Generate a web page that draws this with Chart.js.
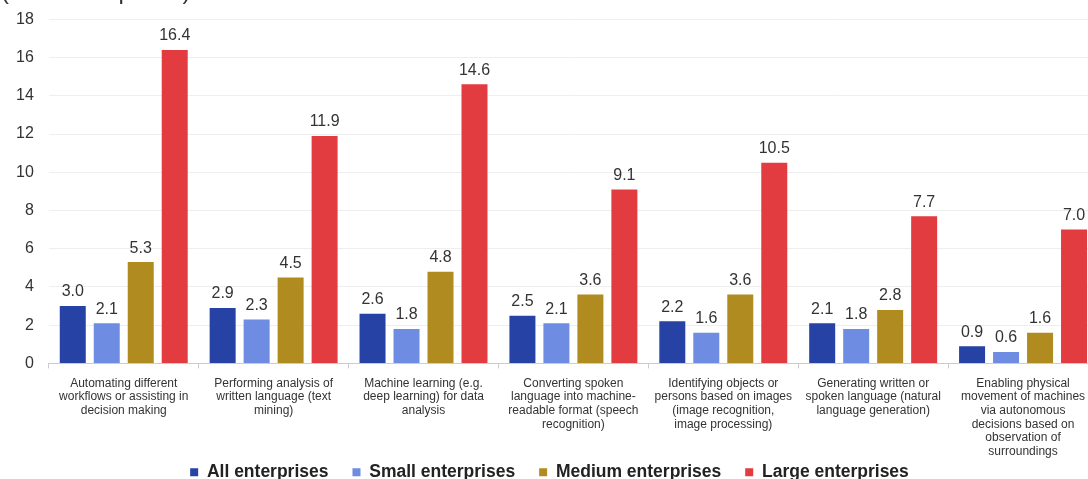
<!DOCTYPE html>
<html>
<head>
<meta charset="utf-8">
<script src="https://cdn.jsdelivr.net/npm/chart.js@4.4.1/dist/chart.umd.min.js"></script>
<style>
  html, body { margin: 0; padding: 0; background: #fff; overflow: hidden; width: 1088px; height: 479px; }
  #wrap { position: absolute; left: 0; top: -18px; width: 1110px; height: 536px; }
</style>
</head>
<body>
<div id="wrap"><canvas id="myChart"></canvas></div>
<script>
// categories (each label pre-wrapped into lines)
const categories = [
    ["Automating different", "workflows or assisting in", "decision making"],
    ["Performing analysis of", "written language (text", "mining)"],
    ["Machine learning (e.g.", "deep learning) for data", "analysis"],
    ["Converting spoken", "language into machine-", "readable format (speech", "recognition)"],
    ["Identifying objects or", "persons based on images", "(image recognition,", "image processing)"],
    ["Generating written or", "spoken language (natural", "language generation)"],
    ["Enabling physical", "movement of machines", "via autonomous", "decisions based on", "observation of", "surroundings"]
];

const allEnterprises    = [3.0, 2.9, 2.6, 2.5, 2.2, 2.1, 0.9];
const smallEnterprises  = [2.1, 2.3, 1.8, 2.1, 1.6, 1.8, 0.6];
const mediumEnterprises = [5.3, 4.5, 4.8, 3.6, 3.6, 2.8, 1.6];
const largeEnterprises  = [16.4, 11.9, 14.6, 9.1, 10.5, 7.7, 7.0];

const yTicks = [0, 2, 4, 6, 8, 10, 12, 14, 16, 18];

// writes the value above every bar
const valueLabels = {
    id: 'valueLabels',
    afterDatasetsDraw(chart) {
        const ctx = chart.ctx;
        ctx.save();
        ctx.font = '16px "Liberation Sans", Arial, sans-serif';
        ctx.fillStyle = '#333';
        ctx.textAlign = 'center';
        ctx.textBaseline = 'bottom';
        chart.data.datasets.forEach((ds, i) => {
            chart.getDatasetMeta(i).data.forEach((bar, j) => {
                ctx.fillText(ds.data[j].toFixed(1), bar.x, bar.y - 6);
            });
        });
        ctx.restore();
    }
};

// the legend keeps its wide item spacing but sits closer to the axis labels
const legendLift = {
    id: 'legendLift',
    afterLayout(chart) {
        chart.legend.top -= 27;
        chart.legend.bottom -= 27;
    }
};

const font = '"Liberation Sans", Arial, sans-serif';

const data = {
    labels: categories,
    datasets: [
        { label: "All enterprises",    data: allEnterprises,    backgroundColor: 'rgb(38,66,164)' },
        { label: "Small enterprises",  data: smallEnterprises,  backgroundColor: 'rgb(110,140,226)' },
        { label: "Medium enterprises", data: mediumEnterprises, backgroundColor: 'rgb(176,140,32)' },
        { label: "Large enterprises",  data: largeEnterprises,  backgroundColor: 'rgb(226,60,64)' }
    ]
};

const ctx = document.getElementById('myChart').getContext('2d');
const myChart = new Chart(ctx, {
    type: 'bar',
    data: data,
    plugins: [valueLabels, legendLift],
    options: {
        responsive: true,
        maintainAspectRatio: false,
        animation: false,
        categoryPercentage: 0.907,
        barPercentage: 0.765,
        layout: { padding: { left: 1, right: 12, top: 0, bottom: 0 } },
        plugins: {
            title: {
                display: true,
                text: '(% of enterprises)',
                align: 'start',
                color: '#333',
                font: { family: font, size: 24, weight: 'normal' },
                padding: { top: -4, bottom: 12.5 }
            },
            legend: {
                position: 'bottom',
                labels: {
                    color: '#222',
                    font: { family: font, size: 17.5, weight: 'bold' },
                    boxWidth: 8,
                    boxHeight: 8,
                    padding: 24
                }
            },
            tooltip: { enabled: false }
        },
        scales: {
            x: {
                grid: {
                    display: true,
                    drawOnChartArea: false,
                    tickLength: 5,
                    color: '#ccc'
                },
                border: { color: '#ccc' },
                ticks: {
                    color: '#333',
                    font: { family: font, size: 12, lineHeight: 1.14 },
                    maxRotation: 0,
                    autoSkip: false,
                    padding: 8
                }
            },
            y: {
                min: 0,
                max: 18,
                afterBuildTicks: axis => { axis.ticks = yTicks.map(v => ({ value: v })); },
                grid: { color: '#eeeeee', drawTicks: false },
                border: { display: false },
                ticks: {
                    color: '#333',
                    font: { family: font, size: 16 },
                    padding: 15
                }
            }
        }
    }
});
</script>
</body>
</html>
